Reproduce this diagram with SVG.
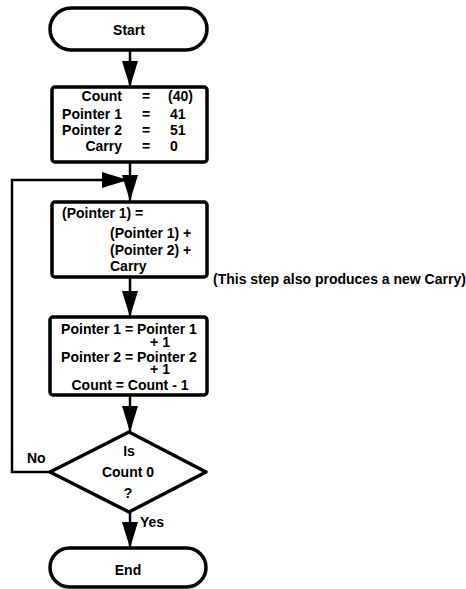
<svg xmlns="http://www.w3.org/2000/svg" width="466" height="589" viewBox="0 0 466 589">
<style>
.shape{fill:#fff;stroke:#000;stroke-width:3.5;stroke-linejoin:round}
.line{fill:none;stroke:#000;stroke-width:2.5}
text{font-family:"Liberation Sans",Arial,sans-serif;font-weight:bold;font-size:14px;fill:#000}
.c{text-anchor:middle}
.r{text-anchor:end}
</style>
<defs>
<marker id="ah" markerUnits="userSpaceOnUse" markerWidth="26" markerHeight="16" refX="26" refY="8" orient="auto">
<path d="M0,0 L26,8 L0,16 Z" fill="#000"/>
</marker>
</defs>
<rect width="466" height="589" fill="#fff"/>
<g id="connectors">
<line class="line" x1="130" y1="50" x2="130" y2="87" marker-end="url(#ah)"/>
<line class="line" x1="130" y1="162" x2="130" y2="201" marker-end="url(#ah)"/>
<polyline class="line" points="50,472 12,472 12,180 128,180" marker-end="url(#ah)"/>
<line class="line" x1="130" y1="277" x2="130" y2="317" marker-end="url(#ah)"/>
<line class="line" x1="130" y1="395" x2="130" y2="432" marker-end="url(#ah)"/>
<line class="line" x1="130" y1="512" x2="130" y2="548" marker-end="url(#ah)"/>
<text x="27" y="463">No</text>
<text x="140" y="527">Yes</text>
</g>
<g id="start">
<rect class="shape" x="50" y="8" width="157" height="42" rx="21"/>
<text class="c" x="129" y="35">Start</text>
</g>
<g id="init">
<rect class="shape" x="52" y="87" width="155" height="75" rx="3"/>
<text class="r" x="122" y="101">Count</text>
<text class="r" x="122" y="119">Pointer 1</text>
<text class="r" x="122" y="135">Pointer 2</text>
<text class="r" x="122" y="151">Carry</text>
<text class="c" x="146" y="101">=</text>
<text class="c" x="146" y="119">=</text>
<text class="c" x="146" y="135">=</text>
<text class="c" x="146" y="151">=</text>
<text x="168" y="101">(40)</text>
<text x="170" y="119">41</text>
<text x="170" y="135">51</text>
<text x="170" y="151">0</text>
</g>
<g id="add">
<rect class="shape" x="52" y="202" width="155" height="75" rx="3"/>
<text x="62" y="218">(Pointer 1) =</text>
<text x="110" y="238">(Pointer 1)  +</text>
<text x="110" y="255">(Pointer 2)  +</text>
<text x="110" y="271">Carry</text>
</g>
<text id="note" x="213" y="284">(This step also produces a new Carry)</text>
<g id="increment">
<rect class="shape" x="50" y="317" width="157" height="78" rx="3"/>
<text class="c" x="129" y="334">Pointer 1 = Pointer 1</text>
<text class="c" x="160" y="347">+ 1</text>
<text class="c" x="129" y="362">Pointer 2 = Pointer 2</text>
<text class="c" x="160" y="374">+ 1</text>
<text class="c" x="130" y="390">Count = Count - 1</text>
</g>
<g id="decision">
<polygon class="shape" points="129,432 206,472 129,512 50,472"/>
<text class="c" x="129" y="456">Is</text>
<text class="c" x="128" y="477">Count 0</text>
<text class="c" x="128" y="498">?</text>
</g>
<g id="end">
<rect class="shape" x="50" y="548" width="156" height="39" rx="19.5"/>
<text class="c" x="128" y="575">End</text>
</g>
</svg>
